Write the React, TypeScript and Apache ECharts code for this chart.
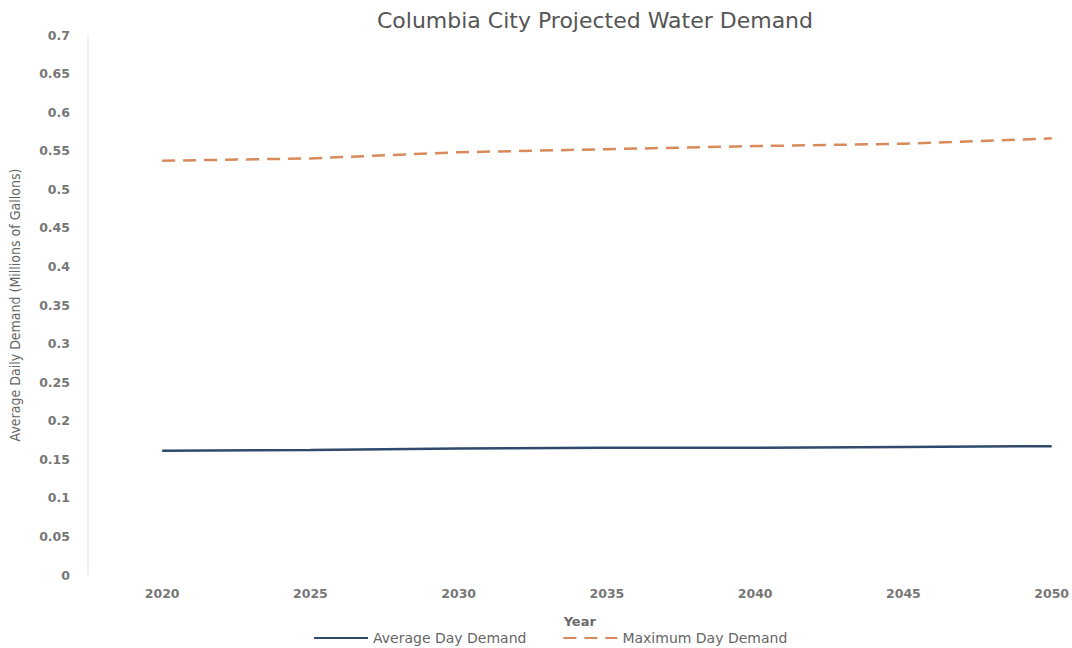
import React, { useEffect, useRef } from "react";
import * as echarts from "echarts";

const years = [2020, 2025, 2030, 2035, 2040, 2045, 2050];
const averageDay = [0.161, 0.162, 0.164, 0.165, 0.165, 0.166, 0.167];
const maximumDay = [0.537, 0.54, 0.548, 0.552, 0.556, 0.559, 0.566];
const xTicks = [2020, 2025, 2030, 2035, 2040, 2045, 2050];

export default function App() {
  const ref = useRef<HTMLDivElement>(null);
  useEffect(() => {
    if (!ref.current) return;
    const chart = echarts.init(ref.current, null, { renderer: "svg" });
    const wideFont = "'DejaVu Sans', sans-serif";
    chart.setOption({
      animation: false,
      backgroundColor: "#ffffff",
      title: {
        text: "Columbia City Projected Water Demand",
        left: 590,
        top: 4,
        textAlign: "center",
        textStyle: { fontFamily: wideFont, fontSize: 22, fontWeight: "normal", color: "#555555" },
      },
      legend: {
        top: 626,
        left: 308,
        itemGap: 36,
        itemWidth: 54,
        itemHeight: 10,
        itemStyle: { opacity: 0 },
        textStyle: { fontFamily: wideFont, fontSize: 14, color: "#666666" },
        data: [
          { name: "Average Day Demand" },
          { name: "Maximum Day Demand" },
        ],
      },
      grid: { left: 86, right: 0, top: 35, bottom: 73, containLabel: false },
      xAxis: {
        type: "value",
        min: 2017.5,
        max: 2050.67,
        name: "Year",
        nameLocation: "middle",
        nameGap: 40,
        nameTextStyle: { fontFamily: wideFont, fontSize: 13, fontWeight: "bold", color: "#6a6a6a" },
        axisLine: { show: false },
        axisTick: { show: false, customValues: xTicks },
        splitLine: { show: false },
        axisLabel: {
          customValues: xTicks,
          margin: 12,
          fontFamily: wideFont,
          fontSize: 12.5,
          fontWeight: "bold",
          color: "#777777",
          formatter: (v: number) => String(v),
        },
      },
      yAxis: {
        type: "value",
        min: 0,
        max: 0.7,
        interval: 0.05,
        name: "Average Daily Demand (Millions of Gallons)",
        nameLocation: "middle",
        nameGap: 66,
        nameTextStyle: {
          fontFamily: "'Liberation Sans Narrow', 'DejaVu Sans Condensed', sans-serif",
          fontSize: 14,
          color: "#666666",
        },
        axisLine: { show: true, lineStyle: { color: "#ececec", width: 1.5 } },
        axisTick: { show: false },
        splitLine: { show: false },
        axisLabel: {
          margin: 18,
          fontFamily: wideFont,
          fontSize: 12.5,
          fontWeight: "bold",
          color: "#777777",
          formatter: (v: number) => String(Math.round(v * 100) / 100),
        },
      },
      series: [
        {
          name: "Average Day Demand",
          type: "line",
          data: years.map((y, i) => [y, averageDay[i]]),
          showSymbol: false,
          symbol: "none",
          lineStyle: { color: "#2f4a6d", width: 2.5 },
          itemStyle: { color: "#2f4a6d" },
        },
        {
          name: "Maximum Day Demand",
          type: "line",
          data: years.map((y, i) => [y, maximumDay[i]]),
          showSymbol: false,
          symbol: "none",
          lineStyle: { color: "#d98a5a", width: 2.5, type: [13, 8] },
          itemStyle: { color: "#d98a5a" },
        },
      ],
    });
    return () => chart.dispose();
  }, []);
  return (
    <div
      ref={ref}
      style={{ position: "fixed", left: 0, top: 0, width: 1072, height: 648 }}
    />
  );
}
